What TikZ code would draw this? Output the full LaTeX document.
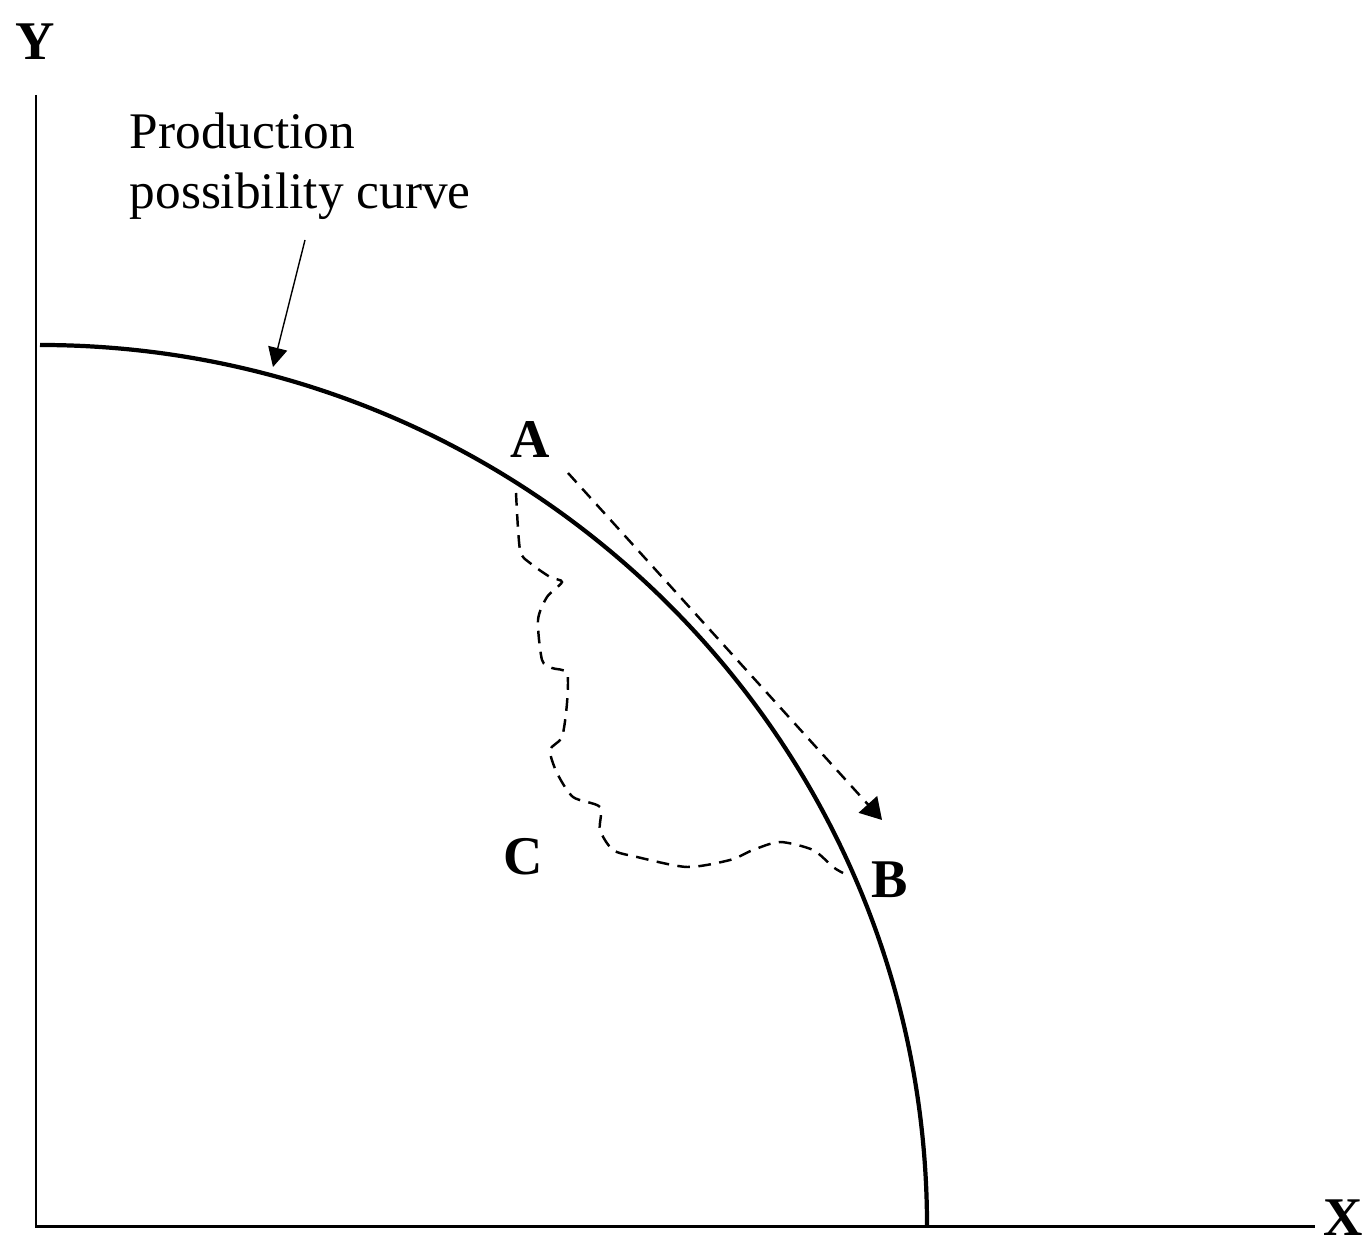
\documentclass[tikz,border=0pt]{standalone}
\usepackage{fontspec}
\setmainfont{Liberation Serif}
\usetikzlibrary{arrows.meta}
\tikzset{
  axis/.style={line width=0.85pt},
  curve/.style={line width=1.2pt},
  axislabel/.style={font=\fontsize{15.5}{18}\selectfont\bfseries,inner sep=0pt},
  pointlabel/.style={font=\fontsize{15.5}{18}\selectfont\bfseries,inner sep=0pt},
  note/.style={align=left,inner sep=0pt,font=\fontsize{14.6}{17}\selectfont},
  move/.style={dash pattern=on 3.6pt off 2.4pt,line width=0.7pt},
  line/.style={-{Triangle[length=5.5pt,width=5.5pt]}},
  moveline/.style={-{Triangle[length=6pt,width=7pt]}}
}

\begin{document}
\begin{tikzpicture}[x=0.01cm,y=0.01cm]
\useasboundingbox (0,0) rectangle (1368,1243);
% axes
\coordinate (O) at (36,17);
\coordinate (ytop) at (36,1148);
\coordinate (xend) at (1315,17);
\draw[axis] (ytop) -- (O) -- (xend);
\node[axislabel] (Y) at (35,1201) {Y};
\node[axislabel,anchor=base east] (X) at (1364,8) {X};
% production possibility curve
\draw[curve] (40,898) arc[start angle=90,end angle=0,x radius=887,y radius=881];
\node[note,anchor=north west] (ppclabel) at (129,1131) {Production\\possibility curve};
\coordinate (ppctip) at (273,876);
\draw[line] (305,1003) -- (ppctip);
% points
\node[pointlabel] (A) at (530,803) {A};
\node[pointlabel] (B) at (890,363) {B};
\node[pointlabel] (C) at (523,386) {C};
% movement along the curve
\coordinate (alongA) at (568,770);
\coordinate (alongB) at (882,423);
\draw[move,moveline] (alongA) -- (alongB);
% movement through the inside
\coordinate (inA) at (516,750);
\coordinate (inB) at (843,370);
\draw[move] plot[smooth,tension=0.45] coordinates {(inA) (520,693) (530,680) (550,666) (562,661)
  (547,646) (538,623) (542,583) (552,575) (567,570) (567,540) (562,506) (550,493)
  (557,470) (573,446) (600,436) (600,413) (613,393) (637,386) (687,376) (730,383)
  (753,393) (780,401) (813,393) (833,376) (inB)};
\end{tikzpicture}
\end{document}
